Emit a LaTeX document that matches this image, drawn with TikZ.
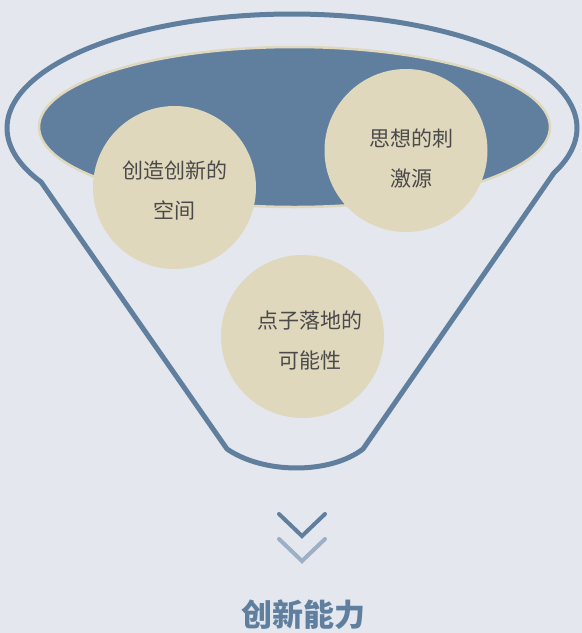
\documentclass[tikz,border=0pt]{standalone}
\usepackage{fontspec}
\newfontfamily\cjk{Noto Sans CJK SC}
\definecolor{bgc}{HTML}{E4E8EE}
\definecolor{fblue}{HTML}{607F9E}
\definecolor{beige}{HTML}{DFD8BC}
\definecolor{lblue}{HTML}{9CAFC4}
\definecolor{txt}{HTML}{4A4A4A}
\begin{document}
\begin{tikzpicture}[x=1pt,y=-1pt,
  bubble/.style={circle,fill=beige,draw=none,minimum size=163pt,inner sep=0pt},
  label/.style={align=center,text=txt,font=\cjk\fontsize{21}{40}\selectfont,inner sep=0pt},
  chev/.style={line width=4pt,line cap=round,line join=miter}]
\useasboundingbox (0,0) rectangle (582,633);
\fill[bgc] (0,0) rectangle (582,633);
% inner ellipse
\draw[fill=fblue,draw=beige,line width=2.5pt] (294.5,127) ellipse [x radius=255.5, y radius=80];
% funnel outline
\coordinate (lc) at (227,449);
\coordinate (rc) at (363,449);
\draw[fblue,line width=5pt,line join=round]
  plot[domain=151.7:383.2,samples=120,smooth] ({292+285*cos(\x)},{128+114*sin(\x)})
  -- (rc) .. controls (330,474.3) and (264,474.3) .. (lc) -- cycle;
% bubbles
\node[bubble] (c1) at (174.5,187.5) {};
\node[bubble] (c2) at (406,150.5) {};
\node[bubble] (c3) at (302.5,336.5) {};
\node[label] (t1) at (174.5,190) {创造创新的\\空间};
\node[label] (t2) at (411,158) {思想的刺\\激源};
\node[label] (t3) at (310,340) {点子落地的\\可能性};
% chevrons
\coordinate (a1) at (279,514); \coordinate (a2) at (302,536); \coordinate (a3) at (325,514);
\coordinate (b1) at (279,539); \coordinate (b2) at (302,561); \coordinate (b3) at (325,539);
\draw[chev,fblue] (a1) -- (a2) -- (a3);
\draw[chev,lblue] (b1) -- (b2) -- (b3);
% title
\node[text=fblue,font=\cjk\bfseries\fontsize{31}{34}\selectfont,inner sep=0pt] (title) at (303.5,615) {创新能力};
\end{tikzpicture}
\end{document}
